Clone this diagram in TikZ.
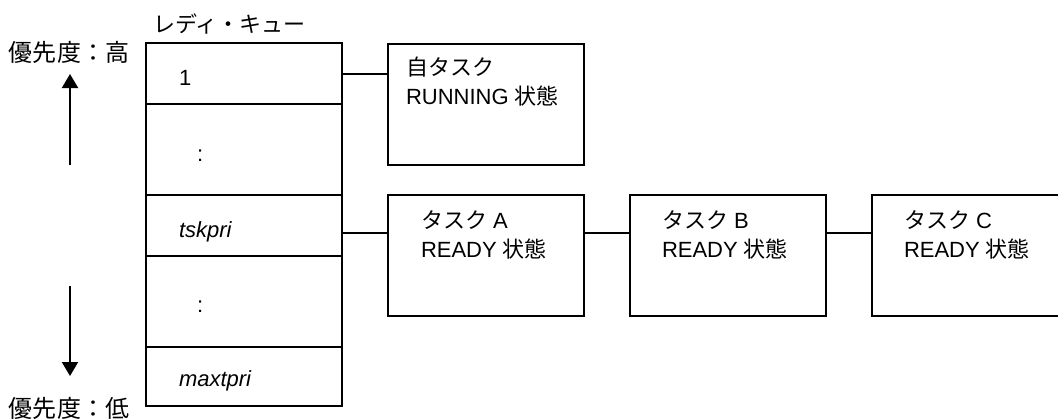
\documentclass[tikz,border=0pt]{standalone}
\usepackage{fontspec}
\setmainfont{Liberation Sans}
\newfontfamily\jp{Noto Sans CJK JP}
\usepackage{tikz}
\usetikzlibrary{arrows.meta,positioning}
\tikzset{
    %Define standard arrow tip
    >={Triangle[length=7pt,width=8pt]},
    %Define style for queue cells
    cell/.style={
           rectangle,
           draw=black, line width=1pt,
           minimum width=98pt,
           inner sep=0pt, outer sep=0pt},
    %Define style for task boxes
    taskbox/.style={
           rectangle,
           draw=black, line width=1pt,
           minimum width=98pt,
           minimum height=60.5pt,
           inner sep=0pt, outer sep=0pt},
    % Define text inside boxes
    boxtext/.style={
           anchor=base west,
           align=left,
           inner sep=0pt}
}
\begin{document}
\begin{tikzpicture}[x=1pt,y=1pt,line width=1pt,node distance=23pt,font=\fontsize{11}{14.5}\selectfont]
\useasboundingbox (0,0) rectangle (529,-209.5);
 %queue
\node[cell, minimum height=30.5pt, anchor=north west] (q1) at (73,-21.5) {};
\node[cell, minimum height=45.5pt, below=0pt of q1] (q2) {};
\node[cell, minimum height=30.5pt, below=0pt of q2] (q3) {};
\node[cell, minimum height=45.5pt, below=0pt of q3] (q4) {};
\node[cell, minimum height=29.5pt, below=0pt of q4] (q5) {};
\node[boxtext] (p1) at ([xshift=16pt,yshift=-21pt]q1.north west) {1};
\node[boxtext] (p2) at ([xshift=25pt,yshift=-28.5pt]q2.north west) {:};
\node[boxtext] (p3) at ([xshift=16pt,yshift=-21pt]q3.north west) {\itshape tskpri};
\node[boxtext] (p4) at ([xshift=25pt,yshift=-28pt]q4.north west) {:};
\node[boxtext] (p5) at ([xshift=16pt,yshift=-19.5pt]q5.north west) {\itshape maxtpri};
\node[anchor=west, inner sep=0pt] (title) at (76,-12) {\jp レディ・キュー};
 %priority
\node[anchor=west, inner sep=0pt, font=\jp\fontsize{12}{14}\selectfont] (hi) at (4,-26) {優先度：高};
\node[anchor=west, inner sep=0pt, font=\jp\fontsize{12}{14}\selectfont] (lo) at (4,-204.25) {優先度：低};
\coordinate (up1) at (35,-82.5);
\coordinate (up2) at (35,-37);
\coordinate (dn1) at (35,-143);
\coordinate (dn2) at (35,-188);
\draw[->] (up1) -- (up2);
\draw[->] (dn1) -- (dn2);
 %tasks
\node[taskbox, right=23pt of q1.north east, anchor=north west, yshift=-0.5pt] (run) {};
\node[taskbox, right=23pt of q3.north east, anchor=north west] (tA) {};
\node[taskbox, right= of tA] (tB) {};
\node[taskbox, right= of tB] (tC) {};
\node[boxtext] (runtxt) at ([xshift=8.5pt,yshift=-30pt]run.north west) {{\jp 自タスク}\\RUNNING {\jp 状態}};
\node[boxtext] (txtA) at ([xshift=16pt,yshift=-31pt]tA.north west) {{\jp タスク} A\\READY {\jp 状態}};
\node[boxtext] (txtB) at ([xshift=15.5pt,yshift=-31pt]tB.north west) {{\jp タスク} B\\READY {\jp 状態}};
\node[boxtext] (txtC) at ([xshift=15.5pt,yshift=-31pt]tC.north west) {{\jp タスク} C\\READY {\jp 状態}};
 %links
\coordinate (link) at ([yshift=-3.5pt]q3.east);
\draw (q1.east) -- (q1.east -| run.west);
\draw (link) -- (link -| tA.west);
\draw (link -| tA.east) -- (link -| tB.west);
\draw (link -| tB.east) -- (link -| tC.west);
\end{tikzpicture}
\end{document}
